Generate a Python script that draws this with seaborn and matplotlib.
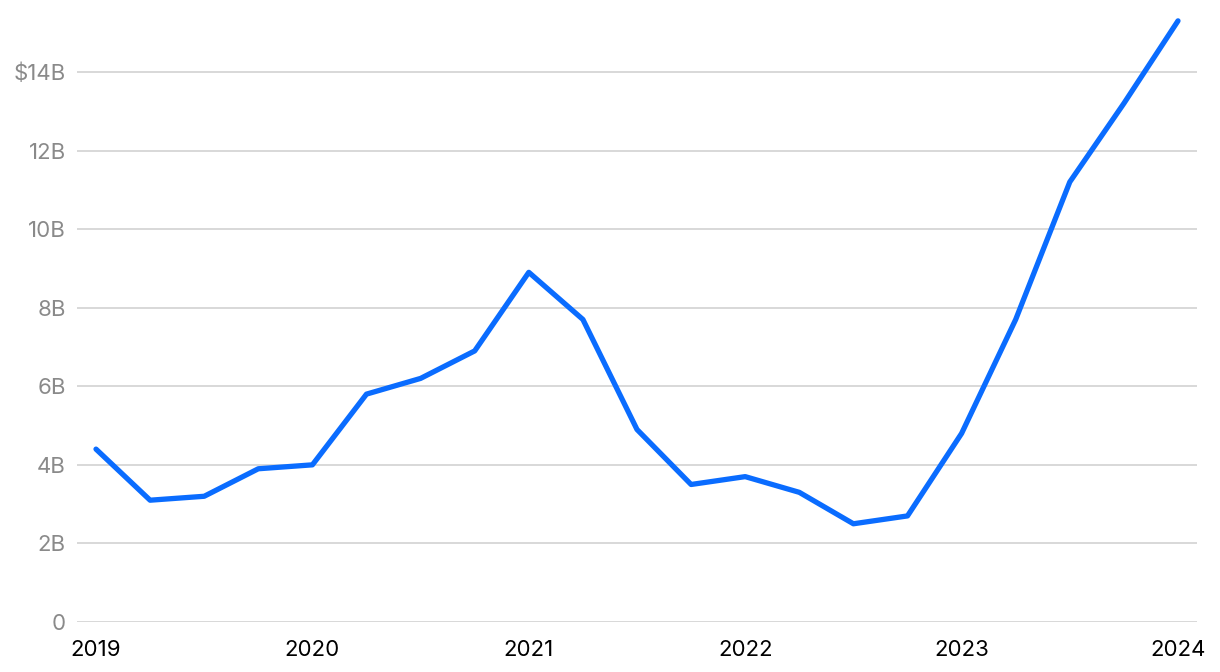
import matplotlib
matplotlib.use("Agg")
import matplotlib.pyplot as plt
import seaborn as sns
import pandas as pd

quarters = ["2019Q1","2019Q2","2019Q3","2019Q4","2020Q1","2020Q2","2020Q3","2020Q4",
            "2021Q1","2021Q2","2021Q3","2021Q4","2022Q1","2022Q2","2022Q3","2022Q4",
            "2023Q1","2023Q2","2023Q3","2023Q4","2024Q1"]
values = [4.4, 3.1, 3.2, 3.9, 4.0, 5.8, 6.2, 6.9, 8.9, 7.7, 4.9, 3.5, 3.7, 3.3, 2.5, 2.7,
          4.8, 7.7, 11.2, 13.2, 15.3]
year_labels = ["2019", "2020", "2021", "2022", "2023", "2024"]
y_ticks = [0, 2, 4, 6, 8, 10, 12, 14]
y_labels = ["0", "2B", "4B", "6B", "8B", "10B", "12B", "$14B"]

df = pd.DataFrame({"idx": range(len(quarters)), "quarter": quarters, "value": values})

sns.set_theme(style="white")
plt.rcParams["font.family"] = ["Inter", "DejaVu Sans"]

fig = plt.figure(figsize=(12.2, 6.72), dpi=100)
ax = fig.add_axes([77/1220, 50/672, (1197-77)/1220, (622-10)/672])

sns.lineplot(data=df, x="idx", y="value", ax=ax, color="#0A6CFF", linewidth=3.8,
             solid_capstyle="round", solid_joinstyle="round", clip_on=False)

ax.set_xlim(-19/54.1, 20 + 19/54.1)
ax.set_ylim(0, 612/39.29)
ax.set_yticks(y_ticks)
ax.set_yticklabels(y_labels)
ax.set_xticks([0, 4, 8, 12, 16, 20])
ax.set_xticklabels(year_labels)
ax.yaxis.grid(True, color="#d2d2d2", linewidth=1.2)
ax.xaxis.grid(False)
ax.set_axisbelow(True)
for s in ax.spines.values():
    s.set_visible(False)
ax.tick_params(axis="y", length=0, pad=8, labelsize=16, labelcolor="#8a8a8a")
ax.tick_params(axis="x", length=0, pad=13, labelsize=16, labelcolor="#000000")
ax.set_xlabel("")
ax.set_ylabel("")

fig.savefig("out.png", dpi=100)
